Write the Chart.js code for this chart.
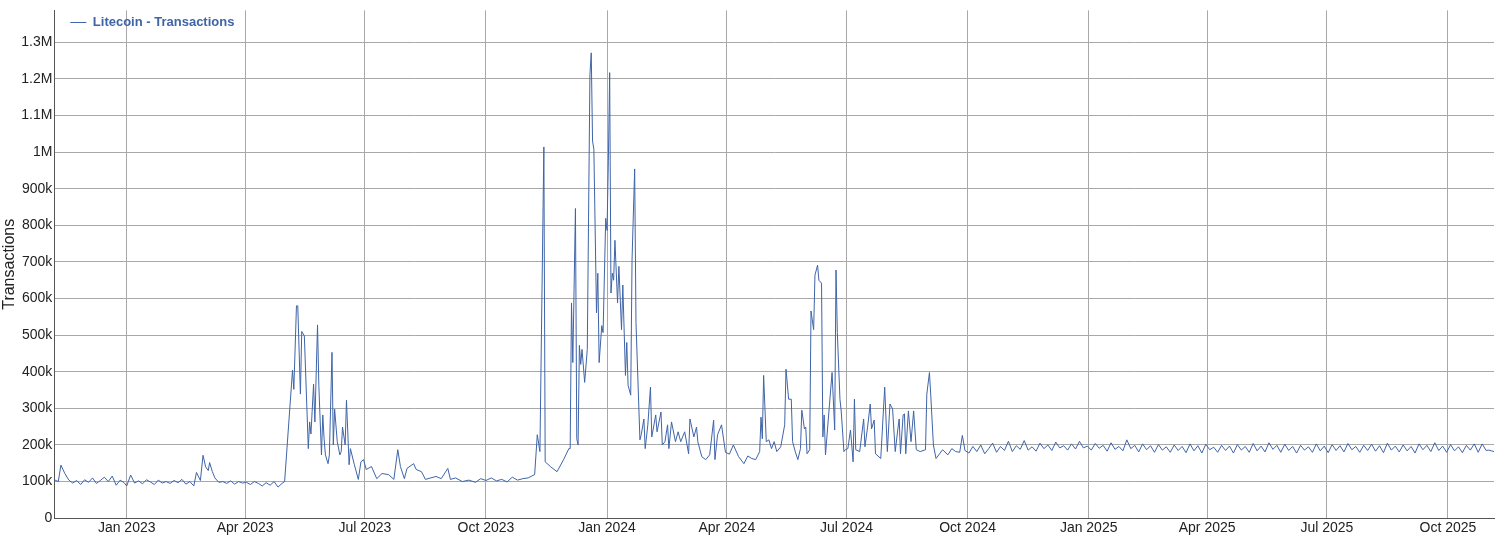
<!DOCTYPE html>
<html lang="en">
<head>
<meta charset="UTF-8" />
<title>Litecoin - Transactions</title>
<script src="https://cdn.jsdelivr.net/npm/chart.js"></script>
<style>
  body { margin: 0; background: #fff; font-family: 'Liberation Sans', Arial, sans-serif; }
  .chart-container { position: relative; width: 1499px; height: 539px; }
</style>
</head>
<body>
<div class="chart-container"><canvas id="chart"></canvas></div>
<script>
// days counted from 2022-11-07
const days = [
  0,3,5,8,11,14,17,20,23,26,29,32,35,38,41,44,47,50,53,55,58,61,64,67,70,73,76,79,82,85,88,91,94,97,100,103,106,108,111,113,115,117,118,120,122,125,128,131,134,137,140,143,146,149,152,155,158,161,164,167,170,173,175,
  181,182,184,185,187,188,190,193,194,195,197,198,200,201,203,204,205,206,208,209,211,212,213,215,217,218,219,221,222,224,225,228,231,233,235,237,241,245,249,254,258,261,263,266,268,273,275,279,282,290,294,299,301,
  305,310,315,320,324,328,332,336,340,344,348,352,356,360,365,367,369,372,373,377,382,387,391,392,393,394,396,397,398,399,400,401,403,405,407,408,409,410,412,413,414,416,417,419,420,421,422,423,424,425,426,428,429,431,432,434,435,436,438,439,441,442,445,446,448,449,451,453,454,457,458,461,462,464,466,467,469,472,474,476,479,482,483,486,488,489,492,495,498,501,502,504,
  507,510,513,516,520,524,527,530,533,536,537,538,539,541,543,545,547,549,552,555,556,558,560,561,563,565,567,568,570,571,572,574,575,577,578,580,581,583,584,585,586,589,591,593,594,595,597,598,600,601,603,605,607,608,609,612,615,616,618,620,621,623,624,628,631,633,635,637,639,641,642,643,645,646,647,649,651,653,655,658,662,663,665,666,668,670,675,679,682,685,
  688,690,692,695,698,701,704,707,710,713,716,719,722,725,728,731,734,737,740,743,746,749,752,755,758,761,764,767,770,773,776,779,782,785,788,791,794,797,800,803,806,809,812,815,818,821,824,827,830,833,836,839,842,845,848,851,854,857,860,863,866,869,872,875,878,881,884,887,890,893,896,899,902,905,908,911,914,917,920,923,926,929,932,935,938,941,944,947,950,953,956,959,962,965,968,971,974,977,980,983,986,989,992,995,998,1001,1004,1007,1010,1013,1016,1019,1022,1025,1028,1031,1034,1037,1040,1043,1046,1049,1052,1055,1058,1061,1064,1067,1070,1073,1076,1079,1082,1085,1088,1090,1092,1094
];
// daily transactions, thousands
const txK = [
  105,100,145,122,104,96,103,92,105,98,110,95,103,112,100,115,90,104,97,88,118,96,102,94,105,99,92,104,96,100,95,103,97,106,93,100,88,125,103,172,140,130,152,128,110,98,100,95,102,93,100,96,98,92,100,95,88,97,90,100,85,95,100,
  404,352,580,580,339,510,498,190,263,230,366,263,528,363,173,282,217,173,149,173,453,200,298,209,173,182,249,200,322,146,190,146,106,154,160,133,141,108,122,119,106,187,141,108,136,149,133,127,106,114,108,136,106,
  110,100,104,98,108,103,110,102,106,99,112,104,108,110,119,228,182,1014,154,141,127,160,190,190,588,425,846,217,200,472,420,461,371,461,1211,1271,1030,1008,561,669,425,526,507,819,786,976,1217,615,669,650,759,588,688,515,637,390,480,363,336,705,954,534,214,228,271,190,255,358,222,282,236,290,200,209,255,190,263,209,236,209,236,176,271,222,249,209,168,160,173,268,160,228,
  255,180,175,200,168,149,170,163,160,182,276,217,390,209,214,190,209,182,195,255,407,325,325,209,182,160,190,295,244,249,176,187,566,515,664,691,650,642,222,282,173,309,398,241,678,507,325,290,182,187,190,241,154,325,187,182,271,195,249,312,244,268,176,163,358,182,312,298,182,244,271,176,282,285,176,293,209,293,187,182,187,339,398,336,200,163,187,173,190,182,
  180,226,185,178,196,182,200,176,190,205,180,196,185,210,182,198,188,212,186,195,183,205,190,200,185,208,192,198,186,203,189,210,192,197,186,204,191,199,183,206,188,196,184,214,190,199,181,203,187,198,180,201,186,195,180,200,185,196,179,203,184,198,178,202,187,194,180,199,185,197,178,201,186,196,180,204,184,197,181,206,188,199,180,202,185,196,178,199,186,195,180,203,184,197,179,201,185,198,181,204,187,196,180,199,185,202,183,
  198,179,205,186,197,181,200,184,196,178,203,187,199,182,206,185,197,180,201,184,195,179,199,186,203,180,
  203,185,186,184,182
];
const tickDays = [55, 145, 236, 328, 420, 511, 602, 694, 786, 876, 967, 1059];
const tickLabels = ['Jan 2023', 'Apr 2023', 'Jul 2023', 'Oct 2023', 'Jan 2024', 'Apr 2024', 'Jul 2024', 'Oct 2024', 'Jan 2025', 'Apr 2025', 'Jul 2025', 'Oct 2025'];

const points = days.map((d, i) => ({ x: d, y: txK[i] * 1000 }));
const lineColor = '#3f64a8';
const gridColor = '#a8a8a8';

new Chart(document.getElementById('chart'), {
  type: 'line',
  data: {
    datasets: [{
      label: 'Litecoin - Transactions',
      data: points,
      borderColor: lineColor,
      borderWidth: 1,
      pointRadius: 0,
      tension: 0
    }]
  },
  options: {
    responsive: true,
    maintainAspectRatio: false,
    animation: false,
    layout: { padding: { top: -4, right: 5, left: 0, bottom: 0 } },
    plugins: {
      tooltip: { enabled: false },
      legend: {
        position: 'chartArea',
        align: 'start',
        labels: {
          usePointStyle: true,
          pointStyle: 'line',
          pointStyleWidth: 16,
          color: lineColor,
          font: { family: 'Liberation Sans', size: 13, weight: 'bold' },
          padding: 16
        }
      }
    },
    scales: {
      x: {
        type: 'linear',
        min: 0,
        max: 1094,
        afterBuildTicks: axis => { axis.ticks = tickDays.map(v => ({ value: v })); },
        ticks: {
          autoSkip: false,
          maxRotation: 0,
          color: '#222',
          font: { family: 'Liberation Sans', size: 14 },
          padding: 2,
          callback: v => tickLabels[tickDays.indexOf(v)]
        },
        grid: { color: gridColor, drawTicks: false },
        border: { color: '#555' }
      },
      y: {
        min: 0,
        max: 1387000,
        afterBuildTicks: axis => {
          const t = [];
          for (let v = 0; v <= 1300000; v += 100000) t.push({ value: v });
          axis.ticks = t;
        },
        ticks: {
          color: '#222',
          font: { family: 'Liberation Sans', size: 14 },
          padding: 2,
          callback: v => v === 0 ? '0' : v >= 1000000 ? (v / 1000000) + 'M' : (v / 1000) + 'k'
        },
        grid: { color: gridColor, drawTicks: false },
        border: { color: '#555' },
        title: {
          display: true,
          text: 'Transactions',
          color: '#222',
          font: { family: 'Liberation Sans', size: 16 },
          padding: 0
        }
      }
    }
  }
});
</script>
</body>
</html>
